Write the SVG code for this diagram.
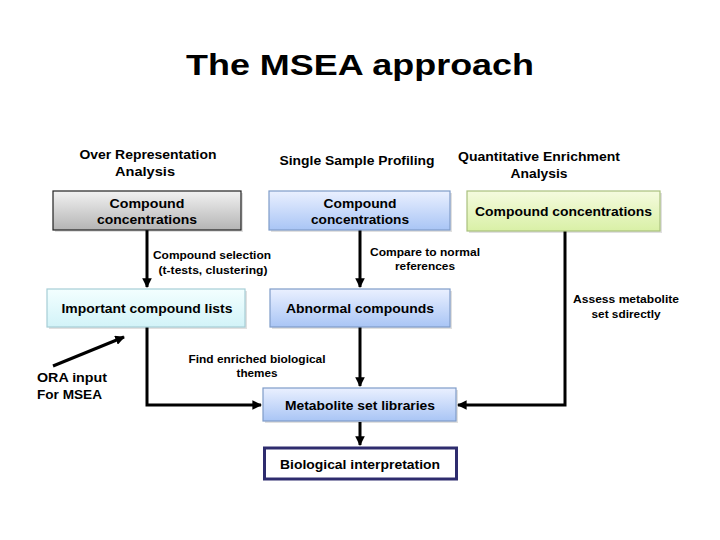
<svg xmlns="http://www.w3.org/2000/svg" width="720" height="540" viewBox="0 0 720 540">
<style>
text{font-family:"Liberation Sans",Arial,sans-serif;font-weight:bold;fill:#000;text-anchor:middle}
.t{font-size:30px}
.h{font-size:12.5px}
.b{font-size:12.5px}
.s{font-size:11px}
.line{fill:none;stroke:#000;stroke-width:3}
.shadow{fill:#000;opacity:0.12}
</style>
<defs>
<linearGradient id="gGray" x1="0" y1="0" x2="0" y2="1"><stop offset="0" stop-color="#f2f2f2"/><stop offset="1" stop-color="#b4b4b4"/></linearGradient>
<linearGradient id="gBlue" x1="0" y1="0" x2="0" y2="1"><stop offset="0" stop-color="#eaf0ff"/><stop offset="1" stop-color="#a9c5f5"/></linearGradient>
<linearGradient id="gGreen" x1="0" y1="0" x2="0" y2="1"><stop offset="0" stop-color="#f5fbdf"/><stop offset="1" stop-color="#d9f0a6"/></linearGradient>
<linearGradient id="gCyan" x1="0" y1="0" x2="0" y2="1"><stop offset="0" stop-color="#f3ffff"/><stop offset="1" stop-color="#d2f3f8"/></linearGradient>
<marker id="arr" viewBox="0 0 10 10" refX="9" refY="5" markerWidth="3.2" markerHeight="3.2" orient="auto" markerUnits="strokeWidth">
<path d="M0,0 L10,5 L0,10 z" fill="#000"/>
</marker>
</defs>
<rect width="720" height="540" fill="#fff"/>
<text class="t" x="360" y="75" textLength="348" lengthAdjust="spacingAndGlyphs">The MSEA approach</text>
<g id="headings">
<text class="h" x="148" y="159" textLength="137" lengthAdjust="spacingAndGlyphs">Over Representation</text>
<text class="h" x="145" y="176" textLength="60" lengthAdjust="spacingAndGlyphs">Analysis</text>
<text class="h" x="357" y="165" textLength="155" lengthAdjust="spacingAndGlyphs">Single Sample Profiling</text>
<text class="h" x="539" y="161" textLength="162" lengthAdjust="spacingAndGlyphs">Quantitative Enrichment</text>
<text class="h" x="539" y="178" textLength="57" lengthAdjust="spacingAndGlyphs">Analysis</text>
</g>
<g id="connectors">
<path class="line" d="M147,230 V287" marker-end="url(#arr)"/>
<path class="line" d="M360,230 V287" marker-end="url(#arr)"/>
<path class="line" d="M565,231 V405 H458" marker-end="url(#arr)"/>
<path class="line" d="M147,327 V405 H261" marker-end="url(#arr)"/>
<path class="line" d="M360,327 V386" marker-end="url(#arr)"/>
<path class="line" d="M360,422 V445" marker-end="url(#arr)"/>
<path class="line" d="M53,366 L124,337" marker-end="url(#arr)"/>
<text class="s" x="212" y="259" textLength="118" lengthAdjust="spacingAndGlyphs">Compound selection</text>
<text class="s" x="213" y="274" textLength="109" lengthAdjust="spacingAndGlyphs">(t-tests, clustering)</text>
<text class="s" x="425" y="256" textLength="110" lengthAdjust="spacingAndGlyphs">Compare to normal</text>
<text class="s" x="425" y="270" textLength="60" lengthAdjust="spacingAndGlyphs">references</text>
<text class="s" x="626" y="303" textLength="106" lengthAdjust="spacingAndGlyphs">Assess metabolite</text>
<text class="s" x="626" y="318" textLength="69" lengthAdjust="spacingAndGlyphs">set sdirectly</text>
<text class="s" x="257" y="363" textLength="137" lengthAdjust="spacingAndGlyphs">Find enriched biological</text>
<text class="s" x="257" y="377" textLength="41" lengthAdjust="spacingAndGlyphs">themes</text>
<text class="h" x="37" y="382" textLength="70" lengthAdjust="spacingAndGlyphs" style="text-anchor:start">ORA input</text>
<text class="h" x="37" y="399" textLength="65" lengthAdjust="spacingAndGlyphs" style="text-anchor:start">For MSEA</text>
</g>
<g id="ora-conc">
<rect class="shadow" x="55" y="193" width="188" height="39"/>
<rect x="53" y="191" width="188" height="39" fill="url(#gGray)" stroke="#222" stroke-width="1.2"/>
<text class="b" x="147" y="208" textLength="75" lengthAdjust="spacingAndGlyphs">Compound</text>
<text class="b" x="147" y="224" textLength="100" lengthAdjust="spacingAndGlyphs">concentrations</text>
</g>
<g id="ssp-conc">
<rect class="shadow" x="271" y="193" width="181" height="39"/>
<rect x="269" y="191" width="181" height="39" fill="url(#gBlue)" stroke="#7f9cc8" stroke-width="1.2"/>
<text class="b" x="360" y="208" textLength="73" lengthAdjust="spacingAndGlyphs">Compound</text>
<text class="b" x="360" y="224" textLength="98" lengthAdjust="spacingAndGlyphs">concentrations</text>
</g>
<g id="qea-conc">
<rect class="shadow" x="469" y="193" width="193" height="40"/>
<rect x="467" y="191" width="193" height="40" fill="url(#gGreen)" stroke="#a9c07e" stroke-width="1.2"/>
<text class="b" x="563.5" y="216" textLength="177" lengthAdjust="spacingAndGlyphs">Compound concentrations</text>
</g>
<g id="important-lists">
<rect class="shadow" x="49" y="291" width="198" height="38"/>
<rect x="47" y="289" width="198" height="38" fill="url(#gCyan)" stroke="#a6cdd6" stroke-width="1.2"/>
<text class="b" x="147" y="313" textLength="171" lengthAdjust="spacingAndGlyphs">Important compound lists</text>
</g>
<g id="abnormal">
<rect class="shadow" x="272" y="291" width="180" height="38"/>
<rect x="270" y="289" width="180" height="38" fill="url(#gBlue)" stroke="#7f9cc8" stroke-width="1.2"/>
<text class="b" x="360" y="313" textLength="148" lengthAdjust="spacingAndGlyphs">Abnormal compounds</text>
</g>
<g id="msl">
<rect class="shadow" x="265" y="390" width="193" height="33"/>
<rect x="263" y="388" width="193" height="33" fill="url(#gBlue)" stroke="#7f9cc8" stroke-width="1.2"/>
<text class="b" x="360" y="410" textLength="150" lengthAdjust="spacingAndGlyphs">Metabolite set libraries</text>
</g>
<g id="bio">
<rect x="264.5" y="448" width="192" height="31" fill="#fff" stroke="#2e2c6e" stroke-width="3"/>
<text class="b" x="360" y="469" textLength="160" lengthAdjust="spacingAndGlyphs">Biological interpretation</text>
</g>
</svg>
